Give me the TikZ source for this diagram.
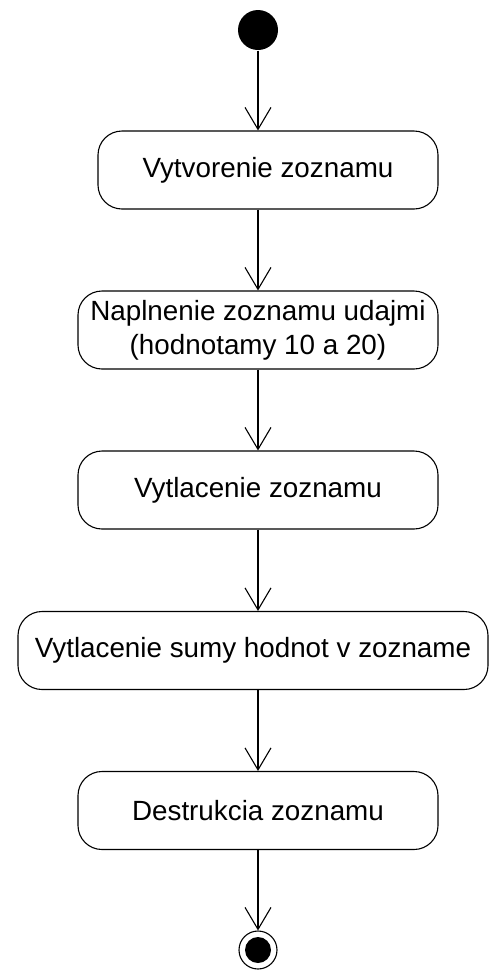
\documentclass[tikz,border=0pt]{standalone}
\usepackage{fontspec}
\setmainfont{Liberation Sans}
\usetikzlibrary{arrows.meta}
\tikzset{
	act/.style={draw, rounded corners=24pt, inner sep=0pt, minimum height=78pt, align=center, font=\fontsize{27.8}{34}\selectfont},
	flow/.style={-{Straight Barb[length=22pt,width=26pt]}}
}
\begin{document}
\begin{tikzpicture}[x=1pt, y=-1pt, line width=1.1pt]
		\useasboundingbox (0,0) rectangle (489,970);
		\node[style=circle,fill,minimum size=40pt,inner sep=0pt] (n0) at (258,30) {};
		\node[style=act,minimum width=340pt] (n1) at (268,170) {Vytvorenie zoznamu};
		\node[style=act,minimum width=360pt] (n2) at (258,330) {Naplnenie zoznamu udajmi\\(hodnotamy 10 a 20)};
		\node[style=act,minimum width=360pt] (n3) at (258,490) {Vytlacenie zoznamu};
		\node[style=act,minimum width=470pt] (n4) at (253,650.5) {Vytlacenie sumy hodnot v zozname};
		\node[style=act,minimum width=360pt] (n5) at (258,810.5) {Destrukcia zoznamu};
		\node[style=circle,draw,minimum size=38pt,inner sep=0pt] (n6) at (258,950) {};
		\node[style=circle,fill,minimum size=26pt,inner sep=0pt] (n6in) at (n6) {};
		\draw[flow] (n0.south) -- (n0 |- n1.north);
		\draw[flow] (n0 |- n1.south) -- (n2.north);
		\draw[flow] (n2.south) -- (n3.north);
		\draw[flow] (n3.south) -- (n3 |- n4.north);
		\draw[flow] (n3 |- n4.south) -- (n5.north);
		\draw[flow] (n5.south) -- (n6.north);
\end{tikzpicture}
\end{document}
